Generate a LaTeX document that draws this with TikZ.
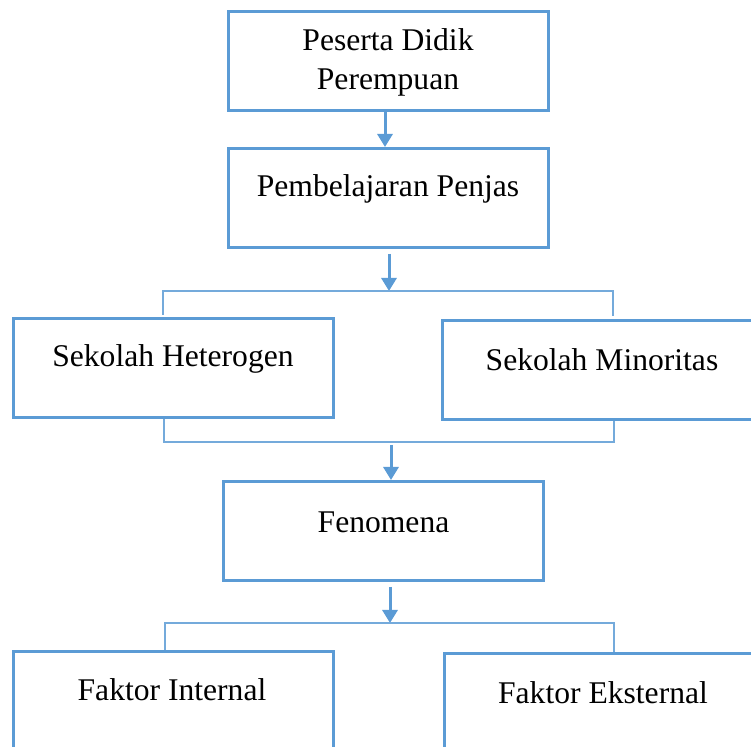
\documentclass[tikz,border=0pt]{standalone}
\usepackage{fontspec}
\setmainfont{Liberation Serif}
\usetikzlibrary{arrows.meta}
\definecolor{bblue}{HTML}{5B9BD5}
\tikzset{
  box/.style={draw=bblue, line width=1.5pt, rectangle, minimum width=160pt, minimum height=49.5pt, inner sep=0pt},
  txt/.style={inner sep=0pt, align=center, font=\fontsize{15.8pt}{19.5pt}\selectfont},
  arr/.style={draw=bblue, line width=1.5pt, -{Triangle[width=7.5pt,length=6.5pt]}},
  brk/.style={draw=bblue!85, line width=0.8pt}
}
\begin{document}
\begin{tikzpicture}[x=0.5pt,y=-0.5pt]
\useasboundingbox (0,0) rectangle (751,747);
\clip (0,0) rectangle (751,747);
% boxes
\node[box] (b1) at (388,61.5) {};
\node[box] (b2) at (388,198) {};
\node[box] (b3) at (173,368.5) {};
\node[box] (b4) at (602,370) {};
\node[box] (b5) at (383.5,531) {};
\node[box] (b6) at (173,701) {};
\node[box] (b7) at (604,703) {};
% texts
\node[txt] (t1) at (388,62) {Peserta Didik\\Perempuan};
\node[txt] (t2) at (388,189) {Pembelajaran Penjas};
\node[txt] (t3) at (173,359) {Sekolah Heterogen};
\node[txt] (t4) at (602,360) {Sekolah Minoritas};
\node[txt] (t5) at (383.5,522) {Fenomena};
\node[txt] (t6) at (172,690) {Faktor Internal};
\node[txt] (t7) at (603,693) {Faktor Eksternal};
% junction coordinates
\coordinate (j1) at (389,291);
\coordinate (j1l) at (163,291);
\coordinate (j1r) at (613,291);
\coordinate (e1l) at (163,315);
\coordinate (e1r) at (613,316);
\coordinate (j2) at (391,442);
\coordinate (j2l) at (164,442);
\coordinate (j2r) at (614,442);
\coordinate (j3) at (390,623);
\coordinate (j3l) at (165,623);
\coordinate (j3r) at (614,623);
% arrows
\draw[arr] (b1.south -| 385,0) -- (b2.north -| 385,0);
\draw[arr, shorten <=2.5pt] (b2.south -| j1) -- (j1);
\draw[brk] (e1l) -- (j1l) -- (j1r) -- (e1r);
\draw[brk] (b3.south -| j2l) -- (j2l) -- (j2r) -- (b4.south -| j2r);
\draw[arr, shorten <=1.5pt] (j2) -- (b5.north -| j2);
\draw[arr, shorten <=2.5pt] (b5.south -| j3) -- (j3);
\draw[brk] (b6.north -| j3l) -- (j3l) -- (j3r) -- (b7.north -| j3r);
\end{tikzpicture}
\end{document}
